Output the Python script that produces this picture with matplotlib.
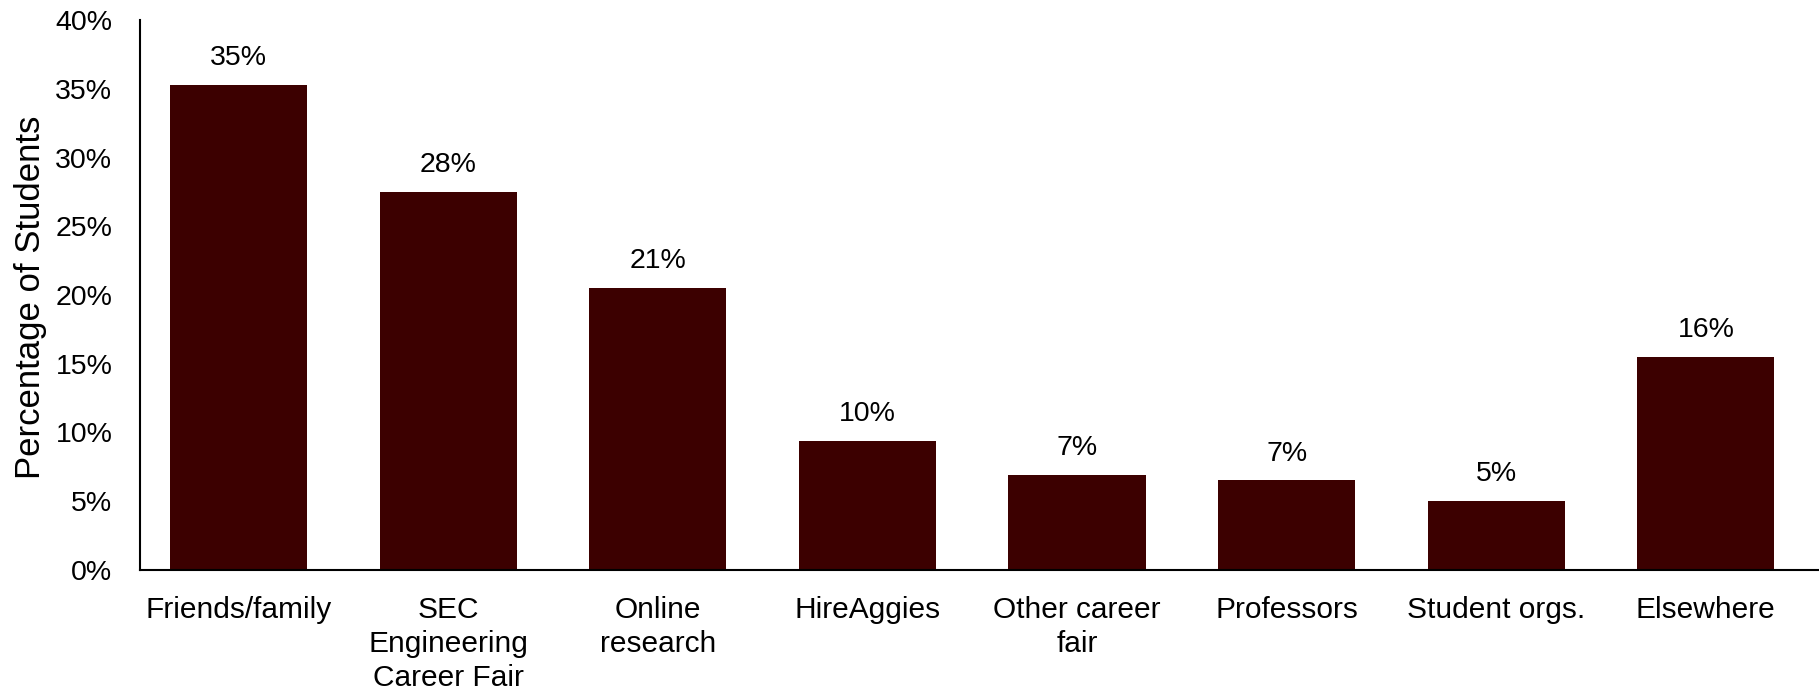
import matplotlib
matplotlib.use("Agg")
import matplotlib.pyplot as plt
from matplotlib.ticker import FuncFormatter

categories = ["Friends/family", "SEC\nEngineering\nCareer Fair", "Online\nresearch",
              "HireAggies", "Other career\nfair", "Professors", "Student orgs.", "Elsewhere"]
values = [35.3, 27.5, 20.5, 9.4, 6.9, 6.5, 5.0, 15.5]
labels = ["35%", "28%", "21%", "10%", "7%", "7%", "5%", "16%"]
yticks = [0, 5, 10, 15, 20, 25, 30, 35, 40]

plt.rcParams['font.family'] = ['Liberation Sans', 'DejaVu Sans']

fig = plt.figure(figsize=(18.19, 6.94), dpi=100)
ax = fig.add_axes([0.077, 0.179, 0.923, 0.792])
color = "#3C0000"
x = range(len(categories))
bars = ax.bar(x, values, width=0.655, color=color)
for b, lab in zip(bars, labels):
    ax.annotate(lab, (b.get_x() + b.get_width() / 2, b.get_height()),
                xytext=(0, 10), textcoords="offset points",
                ha="center", va="bottom", fontsize=20.5)

ax.set_xlim(-0.47, 7.54)
ax.set_ylim(0, 40)
ax.set_yticks(yticks)
ax.yaxis.set_major_formatter(FuncFormatter(lambda v, p: f"{int(v)}%"))
ax.set_xticks(list(x))
ax.set_xticklabels(categories, fontsize=21.5, linespacing=1.26)
ax.tick_params(axis='y', length=0, pad=20, labelsize=20.5)
ax.tick_params(axis='x', length=0, pad=19)
ax.set_ylabel("Percentage of Students", fontsize=25)
ax.yaxis.set_label_coords(-0.0555, 0.495)
for s in ["top", "right"]:
    ax.spines[s].set_visible(False)
ax.spines["left"].set_linewidth(1.5)
ax.spines["bottom"].set_linewidth(1.5)
fig.savefig("out.png", dpi=100)
